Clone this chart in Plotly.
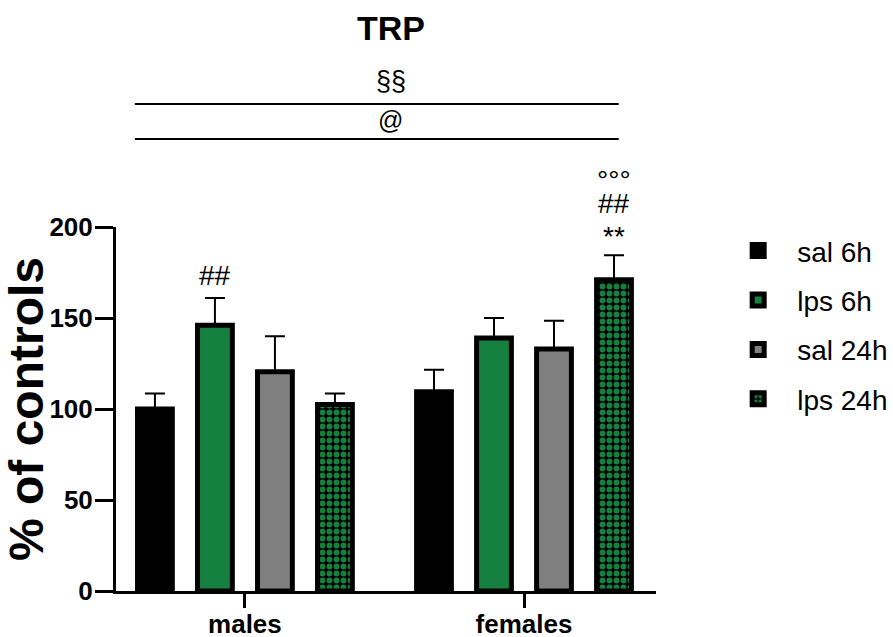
import plotly.graph_objects as go

# ---- data ----
categories = ["males", "females"]
series_names = ["sal 6h", "lps 6h", "sal 24h", "lps 24h"]
sal_6h = [100, 109.5]
lps_6h = [146, 139]
sal_24h = [120.5, 133]
lps_24h = [102.5, 171]
sal_6h_err = [8.5, 12]
lps_6h_err = [15, 11]
sal_24h_err = [19.5, 15.5]
lps_24h_err = [6, 13.5]
y_ticks = [0, 50, 100, 150, 200]

FONT = "Arial, 'Liberation Sans', sans-serif"
GREEN = "#168040"
GREY = "#808080"

values = [sal_6h, lps_6h, sal_24h, lps_24h]
errors = [sal_6h_err, lps_6h_err, sal_24h_err, lps_24h_err]
fills = ["black", GREEN, GREY, "black"]

BARGAP = 0.14
fig = go.Figure()
for i, (name, vals, errs, col) in enumerate(zip(series_names, values, errors, fills)):
    marker = dict(color=col, line=dict(color="black", width=5))
    if i == 3:
        marker["pattern"] = dict(shape=".", fgcolor=GREEN, bgcolor="black",
                                 size=7, solidity=0.55, fillmode="replace")
    fig.add_trace(go.Bar(
        x=categories, y=vals, name=name, marker=marker,
        legendgroup=name,
        error_y=dict(type="data", array=errs, arrayminus=[0] * len(errs),
                     symmetric=False, color="black", thickness=2, width=10),
    ))

# significance marks placed relative to bar tops
slot = (1 - BARGAP) / len(series_names)
def bar_x(cat_idx, ser_idx):
    return cat_idx + (ser_idx - (len(series_names) - 1) / 2) * slot

marks = [
    (0, 1, "##", 22),
    (1, 3, "**", 19),
    (1, 3, "##", 52),
    (1, 3, "°°°", 75),
]
annotations = []
for ci, si, txt, shift in marks:
    annotations.append(dict(
        x=bar_x(ci, si), y=values[si][ci] + errors[si][ci], xref="x", yref="y",
        text=txt, showarrow=False, xanchor="center", yanchor="middle", yshift=shift,
        font=dict(family=FONT, size=28, color="black")))

# title and top brackets (paper coords)
annotations += [
    dict(x=0.509, y=1.547, xref="paper", yref="paper", text="<b>TRP</b>",
         showarrow=False, xanchor="center", yanchor="middle",
         font=dict(family=FONT, size=34, color="black")),
    dict(x=0.509, y=1.40, xref="paper", yref="paper", text="§§",
         showarrow=False, xanchor="center", yanchor="middle",
         font=dict(family=FONT, size=27, color="black")),
    dict(x=0.509, y=1.295, xref="paper", yref="paper", text="@",
         showarrow=False, xanchor="center", yanchor="middle",
         font=dict(family=FONT, size=25, color="black")),
]
shapes = [
    dict(type="line", xref="paper", yref="paper", x0=0.035, x1=0.931,
         y0=1.338, y1=1.338, line=dict(color="black", width=2)),
    dict(type="line", xref="paper", yref="paper", x0=0.035, x1=0.931,
         y0=1.242, y1=1.242, line=dict(color="black", width=2)),
]

fig.update_layout(
    width=893, height=637,
    margin=dict(l=116, r=237, t=227, b=46, autoexpand=False),
    paper_bgcolor="white", plot_bgcolor="white",
    barmode="group", bargap=BARGAP, bargroupgap=0.42,
    font=dict(family=FONT, color="black"),
    annotations=annotations, shapes=shapes,
    legend=dict(x=1.117, y=1.003, xanchor="left", yanchor="top",
                font=dict(family=FONT, size=28, color="black"),
                itemwidth=68, tracegroupgap=10, bgcolor="rgba(0,0,0,0)"),
    showlegend=True,
)
fig.update_xaxes(
    range=[-0.462, 1.473], showline=True, linecolor="black", linewidth=3,
    ticks="outside", ticklen=14, tickwidth=3, tickcolor="black",
    ticklabelstandoff=-6,
    tickfont=dict(family=FONT, size=26, color="black"),
    tickvals=categories, ticktext=[f"<b>{c}</b>" for c in categories],
    showgrid=False, zeroline=False, automargin=False,
)
fig.update_yaxes(
    range=[0, 200], showline=True, linecolor="black", linewidth=3,
    ticks="outside", ticklen=18, tickwidth=3, tickcolor="black",
    ticklabelstandoff=-3,
    tickvals=y_ticks, ticktext=[f"<b>{t}</b>" for t in y_ticks],
    tickfont=dict(family=FONT, size=26, color="black"),
    title=dict(text="<b>% of controls</b>", font=dict(family=FONT, size=48, color="black"),
               standoff=8),
    showgrid=False, zeroline=False, automargin=False,
)

fig.write_html("out.html", config={"displayModeBar": False},
               post_script="document.body.style.margin='0px';")
